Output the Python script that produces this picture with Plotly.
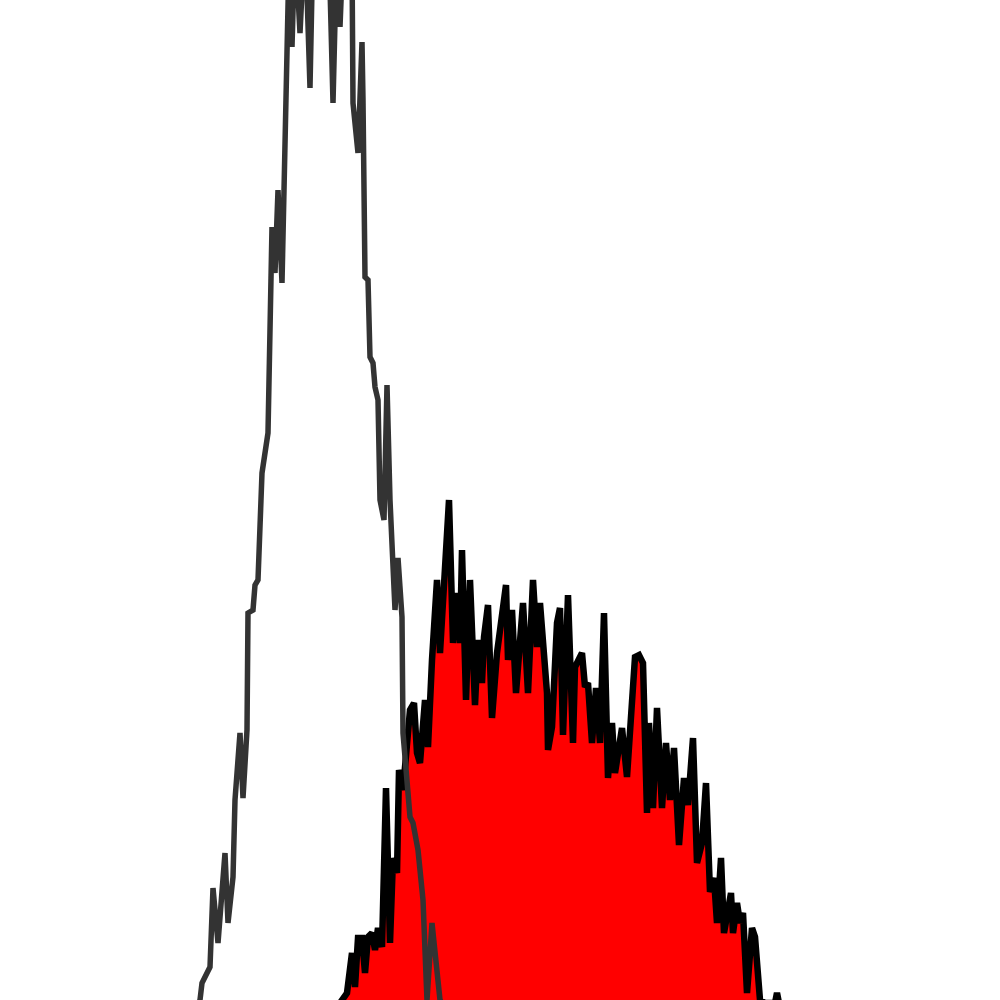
import plotly.graph_objects as go

# Control (unstained) histogram: channel, count (arbitrary units; peak clipped at top)
control_x = [198, 200, 202, 210, 213, 218, 225, 228, 233, 235, 240, 243, 247, 248, 253, 255, 258,
             260, 262, 268, 272, 275, 278, 282, 285, 287, 289, 292, 295, 300, 305, 310, 313, 318,
             323, 328, 333, 337, 340, 343, 348, 352, 353, 358, 362, 363, 365, 368, 370, 373, 375,
             378, 380, 384, 387, 390, 393, 395, 398, 402, 403, 407, 410, 413, 418, 423, 427, 432,
             437, 440, 443]
control_y = [-5, 0, 17, 33, 112, 57, 147, 77, 123, 200, 267, 202, 270, 387, 390, 415, 420,
             500, 527, 567, 773, 727, 810, 717, 850, 950, 1040, 953, 1060, 967, 1070, 912, 1060, 1080,
             1050, 1090, 897, 1060, 973, 1050, 1070, 1040, 897, 847, 958, 900, 723, 720, 643, 637, 613,
             600, 500, 480, 615, 500, 440, 390, 442, 383, 267, 223, 183, 177, 150, 100, 0, 77,
             33, 0, -5]

# Stained sample histogram
sample_x = [340, 343, 347, 352, 355, 358, 362, 365, 368, 372, 375, 378, 382, 386, 390, 393, 397,
            399, 403, 410, 414, 417, 420, 425, 428, 432, 437, 440, 445, 449, 453, 457, 460, 462,
            466, 470, 475, 478, 482, 484, 488, 492, 497, 501, 506, 508, 512, 516, 519, 523, 528,
            533, 537, 540, 547, 548, 552, 557, 560, 563, 568, 573, 575, 582, 585, 588, 592, 596,
            600, 604, 608, 612, 615, 622, 627, 632, 635, 639, 643, 647, 649, 653, 657, 662, 666,
            670, 674, 679, 684, 688, 693, 697, 702, 706, 710, 714, 717, 721, 724, 731, 733, 737,
            740, 743, 747, 752, 755, 760, 765, 775, 777, 779]
sample_y = [-3, 2, 7, 47, 13, 62, 62, 27, 63, 67, 50, 72, 53, 212, 57, 142, 127,
            230, 210, 290, 297, 247, 237, 300, 253, 340, 420, 347, 427, 500, 357, 407, 357, 450,
            300, 420, 295, 360, 317, 363, 395, 282, 347, 380, 415, 340, 390, 307, 340, 397, 307,
            420, 353, 397, 307, 250, 273, 377, 392, 265, 405, 257, 333, 347, 313, 317, 257, 312,
            257, 387, 222, 277, 227, 272, 223, 297, 343, 345, 337, 187, 277, 192, 292, 192, 257,
            200, 252, 155, 222, 195, 262, 137, 157, 217, 108, 122, 77, 142, 67, 107, 67, 97,
            77, 87, 7, 72, 63, 0, -3, -3, 7, -3]

fig = go.Figure()
fig.add_trace(go.Scatter(
    x=sample_x, y=sample_y, mode="lines", fill="tozeroy",
    fillcolor="#ff0000", line=dict(color="#000000", width=6.5),
    showlegend=False, hoverinfo="skip"))
fig.add_trace(go.Scatter(
    x=control_x, y=control_y, mode="lines",
    line=dict(color="#333333", width=5.5),
    showlegend=False, hoverinfo="skip"))

fig.update_layout(
    width=1000, height=1000,
    margin=dict(l=0, r=0, t=0, b=0),
    paper_bgcolor="white", plot_bgcolor="white",
    xaxis=dict(range=[0, 1000], visible=False, fixedrange=True),
    yaxis=dict(range=[0, 1000], visible=False, fixedrange=True),
)
fig.write_html("out.html", config={"displayModeBar": False},
               post_script="document.body.style.margin='0';")
